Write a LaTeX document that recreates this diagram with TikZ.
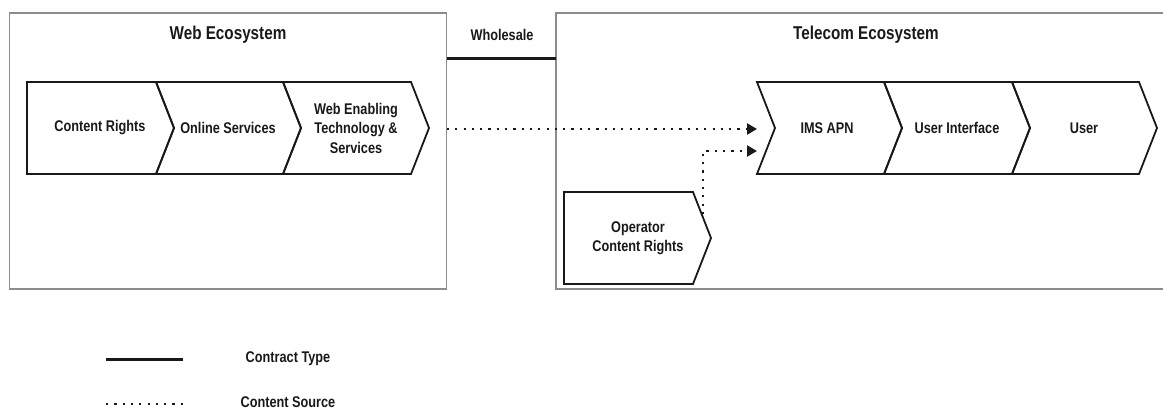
\documentclass[tikz,border=0pt]{standalone}
\usepackage{fontspec}
\setmainfont{Liberation Sans}[FakeStretch=0.82]
\usetikzlibrary{arrows.meta}
\definecolor{boxgrey}{RGB}{140,140,140}
\definecolor{ink}{RGB}{25,25,25}
\tikzset{
  eco/.style={draw=boxgrey, line width=1.5pt},
  chev/.style={draw=ink, line width=1.8pt, line join=miter},
  lbl/.style={font=\fontsize{15.5}{19.5}\selectfont\bfseries, text=ink, align=center, inner sep=0pt},
  ttl/.style={font=\fontsize{18.6}{22}\selectfont\bfseries, text=ink, inner sep=0pt},
  contract/.style={draw=ink, line width=3pt},
  source/.style={draw=ink, line width=2.2pt, dash pattern=on 2.2pt off 6.1pt},
  tip/.style={-{Triangle[length=10pt,width=11pt]}},
}
\begin{document}
\begin{tikzpicture}[x=1pt,y=-1pt]
\useasboundingbox (0,0) rectangle (1163,412);
% ecosystem boxes
\draw[eco] (9.5,13) rectangle (446.7,289);
\node[inner sep=0pt, minimum width=437.2pt, minimum height=276pt] (web) at (228.1,151) {};
\draw[eco] (1170,13) -- (556,13) -- (556,289) -- (1170,289);
\node[inner sep=0pt, minimum width=600pt, minimum height=276pt] (tel) at (856,151) {};
\node[ttl] (webt) at (228,35) {Web Ecosystem};
\node[ttl] (telt) at (866,35) {Telecom Ecosystem};
\node[lbl] (whl) at (502,35) {Wholesale};
\draw[contract] (web.east |- 0,59) -- (tel.west |- 0,59);
% web chevrons
\draw[chev] (27,82) -- (156,82) -- (174,128) -- (156,174) -- (27,174) -- cycle;
\draw[chev] (156,82) -- (283,82) -- (301,128) -- (283,174) -- (156,174) -- (174,128) -- cycle;
\draw[chev] (283,82) -- (411,82) -- (429,128) -- (411,174) -- (283,174) -- (301,128) -- cycle;
\node[lbl] (cr) at (100,128) {Content Rights};
\node[lbl] (os) at (228,128) {Online Services};
\node[lbl] (we) at (356,128) {Web Enabling\\Technology \&\\Services};
% telecom chevrons
\draw[chev] (757,82) -- (884,82) -- (902,128) -- (884,174) -- (757,174) -- (775,128) -- cycle;
\draw[chev] (884,82) -- (1012,82) -- (1030,128) -- (1012,174) -- (884,174) -- (902,128) -- cycle;
\draw[chev] (1012,82) -- (1139,82) -- (1157,128) -- (1139,174) -- (1012,174) -- (1030,128) -- cycle;
\node[lbl] (ims) at (827,128) {IMS APN};
\node[lbl] (ui) at (957,128) {User Interface};
\node[lbl] (usr) at (1084,128) {User};
% operator content rights
\draw[chev] (564,192) -- (693,192) -- (711,238) -- (693,284) -- (564,284) -- cycle;
\node[lbl] (ocr) at (638,238) {Operator\\Content Rights};
% content source connectors
\coordinate (imsa) at (757,129);
\coordinate (imsb) at (757,151);
\coordinate (ocrtop) at (703,214);
\draw[source, tip] (web.east |- imsa) -- (imsa);
\draw[source, tip] (ocrtop) |- (imsb);
% legend
\coordinate (l1a) at (106,359);
\coordinate (l1b) at (183,359);
\coordinate (l2a) at (106,404);
\coordinate (l2b) at (183,404);
\draw[contract] (l1a) -- (l1b);
\draw[source] (l2a) -- (l2b);
\node[lbl] (lct) at (288,359) {Contract Type};
\node[lbl] (lcs) at (288,402) {Content Source};
\end{tikzpicture}
\end{document}
